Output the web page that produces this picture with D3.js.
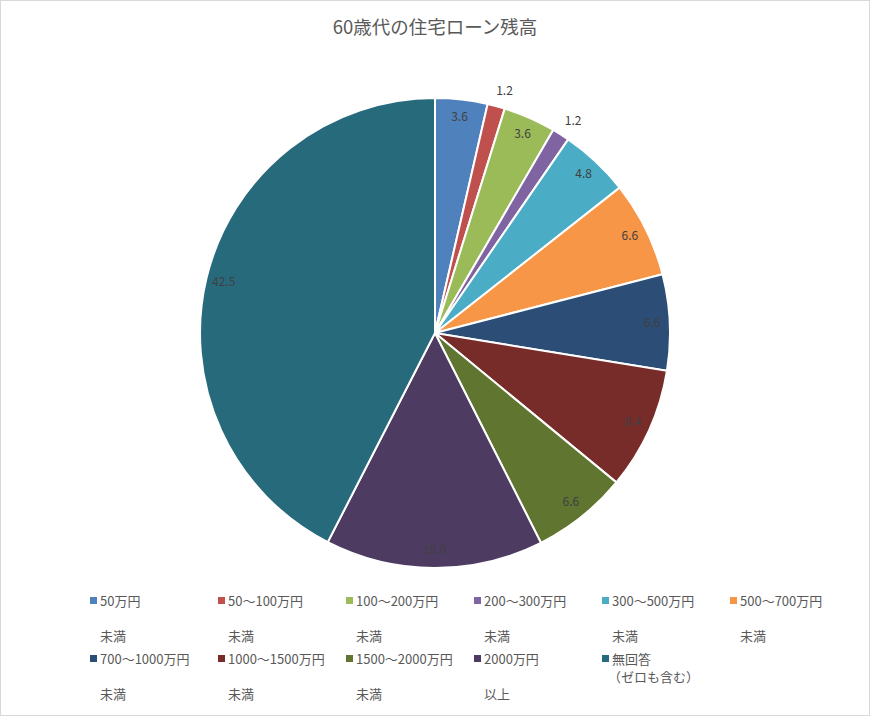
<!DOCTYPE html>
<html>
<head>
<meta charset="utf-8">
<script src="https://cdn.jsdelivr.net/npm/d3@7"></script>
<style>
  body { margin: 0; background: #fff; }
  svg { font-family: "Noto Sans CJK JP", "Noto Sans", sans-serif; }
</style>
</head>
<body>
<svg width="870" height="716"></svg>
<script>
// Chart data
var categories = ['50万円\n未満', '50～100万円\n未満', '100～200万円\n未満', '200～300万円\n未満',
    '300～500万円\n未満', '500～700万円\n未満', '700～1000万円\n未満', '1000～1500万円\n未満',
    '1500～2000万円\n未満', '2000万円\n以上', '無回答\n（ゼロも含む）'];
var values = [3.6, 1.2, 3.6, 1.2, 4.8, 6.6, 6.6, 8.4, 6.6, 15.0, 42.5];
var colors = ['#4f81bd', '#c0504d', '#9bbb59', '#8064a2', '#4bacc6', '#f79646',
    '#2c4d75', '#772c2a', '#5f7530', '#4d3b62', '#276a7c'];
var title = '60歳代の住宅ローン残高';

var svg = d3.select('svg');
var width = +svg.attr('width');
var height = +svg.attr('height');

// chart frame
svg.append('rect')
    .attr('x', 0.5).attr('y', 0.5)
    .attr('width', width - 1).attr('height', height - 1)
    .attr('fill', '#fff')
    .attr('stroke', '#d9d9d9');

svg.append('text')
    .attr('x', width / 2)
    .attr('y', 34)
    .attr('text-anchor', 'middle')
    .attr('font-size', 18.5)
    .attr('fill', '#595959')
    .text(title);

var cx = 435, cy = 333, radius = 235;

var pie = d3.pie().sort(null).value(d => d);
var arcs = pie(values);
var arc = d3.arc().innerRadius(0).outerRadius(radius);
var labelArc = d3.arc().innerRadius(radius * 0.925).outerRadius(radius * 0.925);
var outerArc = d3.arc().innerRadius(radius + 15).outerRadius(radius + 15);

var g = svg.append('g').attr('transform', 'translate(' + [cx, cy] + ')');

g.selectAll('.slice')
    .data(arcs)
    .enter().append('path')
    .attr('class', 'slice')
    .attr('d', arc)
    .attr('fill', (d, i) => colors[i])
    .attr('stroke', '#fff')
    .attr('stroke-width', 2);

// data labels: small slices get their label outside
g.selectAll('.label')
    .data(arcs)
    .enter().append('text')
    .attr('class', 'label')
    .attr('transform', function(d) {
        var small = d.data < 2;
        var p = small ? outerArc.centroid(d) : labelArc.centroid(d);
        return 'translate(' + p + ')';
    })
    .attr('text-anchor', d => d.data < 2 ? 'start' : 'middle')
    .attr('dx', d => d.data < 2 ? -4 : 0)
    .attr('dy', '0.3em')
    .attr('font-size', 12)
    .attr('fill', '#404040')
    .text(d => d3.format('.1f')(d.data));

// legend, 6 per row
var legend = svg.append('g').attr('class', 'legend');
var colW = 128, rowH = 58, lx = 90, ly = 601;

var item = legend.selectAll('.item')
    .data(categories)
    .enter().append('g')
    .attr('class', 'item')
    .attr('transform', (d, i) => 'translate(' + [lx + (i % 6) * colW, ly + Math.floor(i / 6) * rowH] + ')');

item.append('rect')
    .attr('x', 0).attr('y', -4)
    .attr('width', 7).attr('height', 7)
    .attr('fill', (d, i) => colors[i]);

item.each(function(d, i) {
    var lines = d.split('\n');
    var t = d3.select(this).append('text')
        .attr('font-size', 13)
        .attr('fill', '#595959');
    t.append('tspan').attr('x', 10).attr('y', 5).text(lines[0]);
    // the last item wraps tighter than the others
    var last = i === categories.length - 1;
    t.append('tspan').attr('x', last ? 6 : 10).attr('y', 5 + (last ? 18 : 35)).text(lines[1]);
});
</script>
</body>
</html>
